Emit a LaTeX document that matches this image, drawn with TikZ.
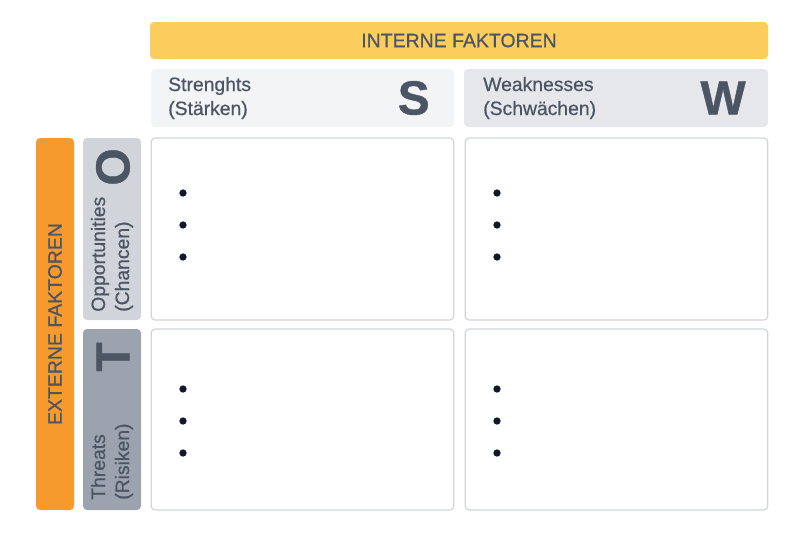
\documentclass[tikz,border=0pt]{standalone}
\usepackage{fontspec}
\setmainfont{Liberation Sans}
\newfontfamily\medfont{Liberation Sans}[FakeBold=0.6]
\newfontfamily\heavyfont{Liberation Sans Bold}[FakeBold=0.8]
\usetikzlibrary{positioning}
\definecolor{inkgray}{HTML}{4B5563}
\definecolor{dotink}{HTML}{111827}
\definecolor{frame}{HTML}{D1D5DB}
\definecolor{interncol}{HTML}{FBCD5D}
\definecolor{externcol}{HTML}{F79A2E}
\definecolor{shead}{HTML}{F3F4F6}
\definecolor{whead}{HTML}{E5E7EB}
\definecolor{obox}{HTML}{D1D5DB}
\definecolor{tbox}{HTML}{9CA3AF}
\tikzstyle{bar} = [
  rectangle,
  rounded corners=3pt,
  inner sep=0pt,
  text=inkgray,
  font=\medfont\fontsize{14.6}{17}\selectfont,
]
\tikzstyle{header} = [
  rectangle,
  rounded corners=3pt,
  inner sep=0pt,
  minimum height=43.5pt,
]
\tikzstyle{field} = [
  rectangle,
  rounded corners=3pt,
  draw=frame,
  line width=0.9pt,
  fill=white,
  inner sep=0pt,
  minimum width=227pt,
]
\tikzstyle{label} = [
  inner sep=0pt,
  align=left,
  text=inkgray,
  font=\medfont\fontsize{14.5}{18}\selectfont,
]
\tikzstyle{letter} = [
  inner sep=0pt,
  text=inkgray,
  font=\heavyfont\fontsize{36}{36}\selectfont,
]
\tikzstyle{dot} = [
  circle,
  fill=dotink,
  inner sep=0pt,
  minimum size=5.5pt,
]

\begin{document}
\begin{tikzpicture}[
    x=0.75pt,
    y=-0.75pt,
  ]
  \useasboundingbox (0,0) rectangle (800,533);
  % top and left bars
  \node[bar, fill=interncol, minimum width=463.5pt, minimum height=27.75pt]
    (intern) at (459,40.5) {INTERNE FAKTOREN};
  \node[bar, fill=externcol, minimum width=28.5pt, minimum height=279pt]
    (extern) at (55,324) {};
  \node[bar, rotate=90] (externtext) at (extern.center) {EXTERNE FAKTOREN};
  % column heads
  \node[header, fill=shead, minimum width=227.25pt] (s) at (302.5,98) {};
  \node[header, fill=whead, minimum width=228pt] (w) at (616,98) {};
  \node[label, anchor=west] (stext) at (168,98) {Strenghts\\(Stärken)};
  \node[letter, anchor=east] (sletter) at (430,98) {S};
  \node[label, anchor=west] (wtext) at (483,98) {Weaknesses\\(Schwächen)};
  \node[letter, anchor=east] (wletter) at (746,98) {W};
  % row heads
  \node[header, fill=obox, minimum width=136.5pt, minimum height=43.5pt, rotate=90]
    (o) at (112,229) {};
  \node[header, fill=tbox, minimum width=135.75pt, minimum height=43.5pt, rotate=90]
    (t) at (112,419.5) {};
  \node[label, rotate=90, anchor=west] (otext) at (112,312) {Opportunities\\(Chancen)};
  \node[letter, rotate=90, anchor=east] (oletter) at (113,148) {O};
  \node[label, rotate=90, anchor=west] (ttext) at (112,500) {Threats\\(Risiken)};
  \node[letter, rotate=90, anchor=east] (tletter) at (113,342) {T};
  % the four fields
  \node[field, minimum height=136.5pt] (os) at (302.5,229) {};
  \node[field, minimum height=136.5pt] (ow) at (616.5,229) {};
  \node[field, minimum height=135.75pt] (ts) at (302.5,419.5) {};
  \node[field, minimum height=135.75pt] (tw) at (616.5,419.5) {};
  \foreach \col/\xx in {s/183,w/497}{
    \foreach \yy [count=\i] in {193,225,257}{
      \node[dot] (o\col\i) at (\xx,\yy) {};
    }
    \foreach \yy [count=\i] in {389,421,453}{
      \node[dot] (t\col\i) at (\xx,\yy) {};
    }
  }
\end{tikzpicture}
\end{document}
